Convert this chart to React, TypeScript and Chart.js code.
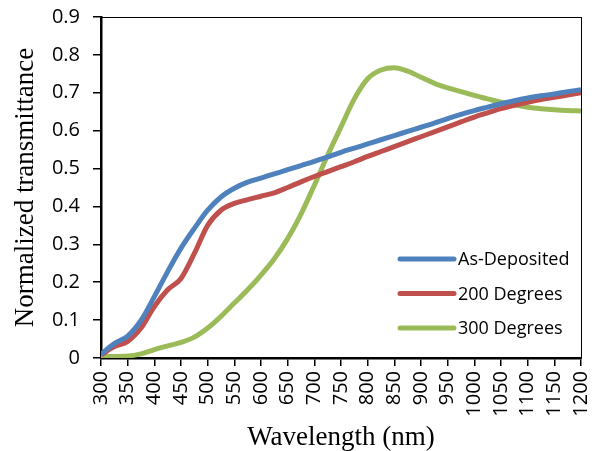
import React, { useEffect, useRef } from "react";
import { Chart, registerables } from "chart.js";

Chart.register(...registerables);

const wavelengths = [300, 325, 350, 375, 400, 425, 450, 475, 500, 525, 550, 575, 600, 625, 650, 675, 700, 725, 750, 775, 800, 825, 850, 875, 900, 925, 950, 975, 1000, 1025, 1050, 1075, 1100, 1125, 1150, 1175, 1200];

const asDeposited = [0.01, 0.038, 0.058, 0.099, 0.162, 0.228, 0.29, 0.342, 0.39, 0.425, 0.448, 0.464, 0.475, 0.486, 0.497, 0.508, 0.519, 0.531, 0.543, 0.554, 0.565, 0.576, 0.587, 0.598, 0.609, 0.62, 0.632, 0.643, 0.653, 0.662, 0.671, 0.679, 0.686, 0.692, 0.697, 0.703, 0.708];

const deg200 = [0.008, 0.03, 0.044, 0.079, 0.136, 0.18, 0.21, 0.276, 0.35, 0.39, 0.408, 0.418, 0.427, 0.436, 0.45, 0.465, 0.479, 0.492, 0.505, 0.518, 0.532, 0.545, 0.558, 0.571, 0.584, 0.597, 0.61, 0.623, 0.636, 0.647, 0.658, 0.667, 0.675, 0.682, 0.688, 0.694, 0.7];

const deg300 = [0.004, 0.004, 0.005, 0.011, 0.022, 0.032, 0.041, 0.055, 0.079, 0.11, 0.145, 0.18, 0.219, 0.262, 0.315, 0.38, 0.456, 0.535, 0.61, 0.684, 0.737, 0.76, 0.766, 0.757, 0.741, 0.725, 0.713, 0.703, 0.693, 0.684, 0.675, 0.668, 0.662, 0.658, 0.655, 0.653, 0.652];

const seriesLabels = ["As-Deposited", "200 Degrees", "300 Degrees"];
const seriesColors = ["#4F81BD", "#C0504D", "#9BBB59"];

const xMin = 300;
const xMax = 1200;
const xStep = 50;
const yMin = 0;
const yMax = 0.9;
const yStep = 0.1;

const xTitle = "Wavelength (nm)";
const yTitle = "Normalized transmittance";

const tickFont = { family: "'Open Sans', sans-serif", size: 20 };
const titleFont = { family: "'Liberation Serif', 'Times New Roman', serif", size: 27 };

const framePlugin = {
  id: "frame",
  beforeDatasetsDraw(chart: any) {
    const { ctx, chartArea } = chart;
    ctx.save();
    ctx.strokeStyle = "#000";
    ctx.lineWidth = 1;
    ctx.strokeRect(chartArea.left, chartArea.top + 0.5, chartArea.right - chartArea.left + 0.5, chartArea.bottom - chartArea.top);
    ctx.restore();
  },
};

const legendPlugin = {
  id: "insideLegend",
  afterDatasetsDraw(chart: any) {
    const { ctx, chartArea } = chart;
    ctx.save();
    ctx.font = "18px 'Open Sans', sans-serif";
    ctx.textBaseline = "middle";
    ctx.textAlign = "left";
    chart.data.datasets.forEach((ds: any, i: number) => {
      const y = chartArea.top + 242 + i * 34.5;
      const x0 = chartArea.right - 181;
      const x1 = chartArea.right - 127;
      ctx.strokeStyle = ds.borderColor;
      ctx.lineWidth = 5;
      ctx.lineCap = "round";
      ctx.beginPath();
      ctx.moveTo(x0, y);
      ctx.lineTo(x1, y);
      ctx.stroke();
      ctx.fillStyle = "#000";
      ctx.fillText(ds.label, chartArea.right - 123, y + 1);
    });
    ctx.restore();
  },
};

const zeroPadding = (scale: any) => {
  scale.paddingTop = 0;
  scale.paddingBottom = 0;
  scale.paddingLeft = 0;
  scale.paddingRight = 0;
};

export default function App() {
  const ref = useRef<HTMLCanvasElement>(null);

  useEffect(() => {
    document.body.style.margin = "0";
    const canvas = ref.current;
    if (!canvas) return;
    const seriesValues = [asDeposited, deg200, deg300];
    const chart = new Chart(canvas, {
      type: "line",
      data: {
        datasets: seriesValues.map((vals, i) => ({
          label: seriesLabels[i],
          data: wavelengths.map((w, j) => ({ x: w, y: vals[j] })),
          borderColor: seriesColors[i],
          backgroundColor: seriesColors[i],
          borderWidth: 5,
          pointRadius: 0,
          cubicInterpolationMode: "monotone" as const,
          fill: false,
        })),
      },
      options: {
        animation: false,
        responsive: false,
        maintainAspectRatio: false,
        layout: { padding: { top: 17, right: 21, left: 0, bottom: 0 } },
        plugins: {
          legend: { display: false },
          tooltip: { enabled: false },
        },
        scales: {
          x: {
            type: "linear",
            min: xMin,
            max: xMax,
            afterFit: (scale: any) => {
              scale.height = 93;
              zeroPadding(scale);
            },
            ticks: {
              stepSize: xStep,
              autoSkip: false,
              minRotation: 90,
              maxRotation: 90,
              font: tickFont,
              color: "#000",
              padding: 5,
              callback: (v: any) => String(v),
            },
            grid: {
              display: true,
              drawOnChartArea: false,
              drawTicks: true,
              tickLength: 8,
              color: "#000",
              lineWidth: 1.5,
            },
            border: { display: true, color: "#000", width: 2.5 },
            title: {
              display: true,
              text: xTitle,
              font: titleFont,
              color: "#000",
              padding: { top: 0, bottom: -3 },
            },
          },
          y: {
            type: "linear",
            min: yMin,
            max: yMax,
            afterFit: (scale: any) => {
              scale.width = 101;
              zeroPadding(scale);
            },
            ticks: {
              stepSize: yStep,
              font: tickFont,
              color: "#000",
              padding: 13,
              callback: (v: any) => (Number(v) === 0 ? "0" : Number(v).toFixed(1)),
            },
            grid: {
              display: true,
              drawOnChartArea: false,
              drawTicks: true,
              tickLength: 8,
              color: "#000",
              lineWidth: 1.5,
            },
            border: { display: true, color: "#000", width: 2.5 },
            title: {
              display: true,
              text: yTitle,
              font: titleFont,
              color: "#000",
              padding: { top: 10, bottom: 0 },
            },
          },
        },
      },
      plugins: [framePlugin, legendPlugin],
    });
    return () => chart.destroy();
  }, []);

  return (
    <div style={{ width: 602, height: 451, background: "#fff" }}>
      <canvas ref={ref} width={602} height={451} />
    </div>
  );
}
